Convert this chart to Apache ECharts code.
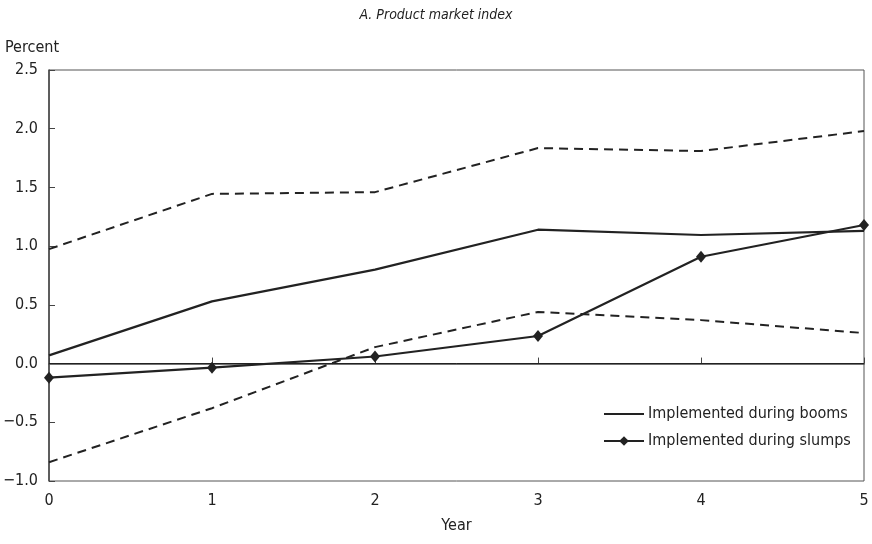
<!DOCTYPE html>
<html>
<head>
<meta charset="utf-8">
<script src="https://cdn.jsdelivr.net/npm/echarts@6/dist/echarts.min.js"></script>
<style>
  html, body { margin: 0; padding: 0; background: #fff; }
  #chart { width: 872px; height: 544px; }
</style>
</head>
<body>
<div id="chart"></div>
<script>
// Years after the reform
const years = [0, 1, 2, 3, 4, 5];
// Product market index response, percent
const booms = [0.07, 0.53, 0.80, 1.14, 1.095, 1.13];
const slumps = [-0.12, -0.035, 0.06, 0.235, 0.91, 1.18];
// Confidence band around the estimates
const bandUpper = [0.975, 1.445, 1.46, 1.835, 1.81, 1.98];
const bandLower = [-0.84, -0.38, 0.14, 0.44, 0.37, 0.26];

const FONT = "'Liberation Sans Narrow', 'DejaVu Sans Condensed', 'Roboto', sans-serif";
const pairs = arr => years.map((x, i) => [x, arr[i]]);
const fmt = v => (v < 0 ? '\u2212' + Math.abs(v).toFixed(1) : v.toFixed(1));

const chart = echarts.init(document.getElementById('chart'), null, { renderer: 'canvas' });
chart.setOption({
  animation: false,
  backgroundColor: '#fff',
  textStyle: { fontFamily: FONT, color: '#222' },
  title: {
    text: 'A. Product market index',
    left: 'center',
    top: 3,
    textStyle: { fontFamily: FONT, fontStyle: 'italic', fontWeight: 'normal', fontSize: 14, color: '#222' }
  },
  grid: {
    left: 49, right: 8, top: 70, bottom: 63,
    show: true, borderColor: '#555', borderWidth: 1, backgroundColor: 'transparent'
  },
  legend: {
    orient: 'vertical',
    left: 598, top: 401,
    itemWidth: 40, itemHeight: 12, itemGap: 11,
    data: [
      { name: 'Implemented during booms', icon: 'path://M0,0 L40,0 L40,2.2 L0,2.2 Z' },
      { name: 'Implemented during slumps' }
    ],
    textStyle: { fontFamily: FONT, fontSize: 16, color: '#222', padding: [0, 0, 0, -1] }
  },
  xAxis: {
    type: 'value', min: 0, max: 5, interval: 1,
    name: 'Year', nameLocation: 'middle', nameGap: 37,
    nameTextStyle: { fontFamily: FONT, fontSize: 16, color: '#222' },
    axisLine: { lineStyle: { color: '#444', width: 1.5 } },
    axisTick: { inside: true, length: 6, lineStyle: { color: '#444' } },
    axisLabel: { fontFamily: FONT, fontSize: 16, color: '#222', margin: 12 },
    splitLine: { show: false }
  },
  yAxis: {
    type: 'value', min: -1, max: 2.5, interval: 0.5,
    name: 'Percent', nameLocation: 'end', nameGap: 14,
    nameTextStyle: { fontFamily: FONT, fontSize: 16, color: '#222', align: 'left', padding: [0, 0, 0, -44] },
    axisLine: { lineStyle: { color: '#444', width: 1.5 } },
    axisTick: { inside: true, length: 6, lineStyle: { color: '#444' } },
    axisLabel: { fontFamily: FONT, fontSize: 16, color: '#222', margin: 11, formatter: fmt },
    splitLine: { show: false }
  },
  series: [
    {
      name: 'Upper band', type: 'line', data: pairs(bandUpper),
      symbol: 'none',
      lineStyle: { color: '#222', width: 2, type: [9, 6] }, z: 2
    },
    {
      name: 'Lower band', type: 'line', data: pairs(bandLower),
      symbol: 'none',
      lineStyle: { color: '#222', width: 2, type: [9, 6] }, z: 2
    },
    {
      name: 'Implemented during booms', type: 'line', data: pairs(booms),
      symbol: 'none',
      itemStyle: { color: '#222' },
      lineStyle: { color: '#222', width: 2.2 }, z: 3,
      markLine: {
        silent: true, symbol: 'none', label: { show: false },
        lineStyle: { color: '#222', width: 1, type: 'solid' },
        data: [{ yAxis: 0 }]
      }
    },
    {
      name: 'Implemented during slumps', type: 'line', data: pairs(slumps),
      symbol: 'diamond', symbolSize: [10, 12], showAllSymbol: true,
      itemStyle: { color: '#222' },
      lineStyle: { color: '#222', width: 2.2 }, z: 4
    }
  ]
});
</script>
</body>
</html>
